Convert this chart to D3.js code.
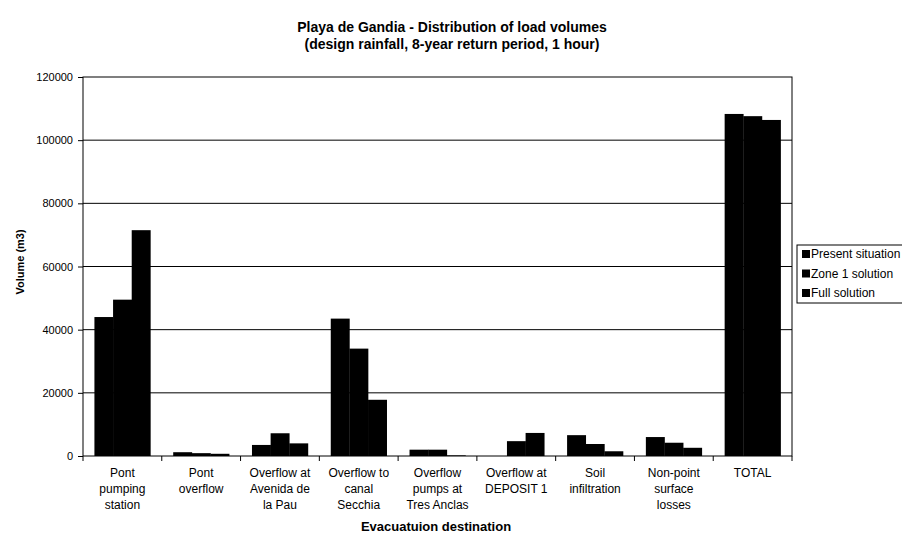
<!DOCTYPE html>
<html>
<head>
<meta charset="utf-8">
<script src="https://cdn.jsdelivr.net/npm/d3@7/dist/d3.min.js"></script>
<style>
  body { margin: 0; background: #fff; }
  svg { display: block; font-family: "Liberation Sans", Arial, sans-serif; }
</style>
</head>
<body>
<svg id="chart" width="902" height="535"></svg>
<script>
// Evacuation destinations (multi-line axis labels)
const categories = [
  ["Pont", "pumping", "station"],
  ["Pont", "overflow"],
  ["Overflow at", "Avenida de", "la Pau"],
  ["Overflow to", "canal", "Secchia"],
  ["Overflow", "pumps at", "Tres Anclas"],
  ["Overflow at", "DEPOSIT 1"],
  ["Soil", "infiltration"],
  ["Non-point", "surface", "losses"],
  ["TOTAL"]
];
const seriesNames = ["Present situation", "Zone 1 solution", "Full solution"];
// Volumes in m3, one array per scenario
const presentSituation = [44000, 1200, 3500, 43500, 2000, 0, 6600, 6000, 108300];
const zone1Solution    = [49500, 900, 7200, 34000, 2000, 4700, 3800, 4200, 107600];
const fullSolution     = [71500, 700, 4000, 17800, 200, 7300, 1500, 2600, 106400];
const yTicks = [0, 20000, 40000, 60000, 80000, 100000, 120000];

const series = [presentSituation, zone1Solution, fullSolution];
const svg = d3.select("#chart");
const plot = { left: 83, right: 792, top: 77, bottom: 456 };

const x = d3.scaleBand()
  .domain(d3.range(categories.length))
  .range([plot.left, plot.right])
  .paddingInner(0.29).paddingOuter(0.145);
const slot = d3.scaleBand()
  .domain(d3.range(series.length))
  .range([0, x.bandwidth()]);
const y = d3.scaleLinear().domain([0, 120000]).range([plot.bottom, plot.top]);

// Titles
svg.append("text").attr("x", 452).attr("y", 32)
  .attr("text-anchor", "middle").attr("font-size", 14).attr("font-weight", "bold")
  .text("Playa de Gandia - Distribution of load volumes");
svg.append("text").attr("x", 452).attr("y", 49)
  .attr("text-anchor", "middle").attr("font-size", 14).attr("font-weight", "bold")
  .text("(design rainfall, 8-year return period, 1 hour)");

// Horizontal gridlines
svg.append("g").selectAll("line")
  .data(yTicks.filter(d => d > 0 && d < 120000))
  .join("line")
  .attr("x1", plot.left).attr("x2", plot.right)
  .attr("y1", d => y(d)).attr("y2", d => y(d))
  .attr("stroke", "#000").attr("stroke-width", 1);

// Bars
svg.append("g").selectAll("g")
  .data(categories.map((c, i) => i))
  .join("g")
  .attr("transform", i => `translate(${x(i)},0)`)
  .selectAll("rect")
  .data(i => series.map((s, k) => ({ k, v: s[i] })))
  .join("rect")
  .attr("x", d => slot(d.k))
  .attr("width", slot.bandwidth() + 0.3)
  .attr("y", d => y(d.v))
  .attr("height", d => y(0) - y(d.v))
  .attr("fill", "#000");

// Plot frame
svg.append("rect")
  .attr("x", plot.left).attr("y", plot.top)
  .attr("width", plot.right - plot.left).attr("height", plot.bottom - plot.top)
  .attr("fill", "none").attr("stroke", "#000").attr("stroke-width", 1);

// Y axis
const yAxis = svg.append("g")
  .attr("transform", `translate(${plot.left},0)`)
  .call(d3.axisLeft(y).tickValues(yTicks).tickFormat(d3.format("d")).tickSize(5).tickPadding(5));
yAxis.select(".domain").remove();
yAxis.selectAll("text").attr("font-size", 11).attr("font-family", "Liberation Sans, Arial, sans-serif");

// X axis ticks at category boundaries
const boundaries = d3.range(categories.length + 1).map(i => plot.left + i * (plot.right - plot.left) / categories.length);
svg.append("g").selectAll("line").data(boundaries).join("line")
  .attr("x1", d => d).attr("x2", d => d)
  .attr("y1", plot.bottom).attr("y2", plot.bottom + 5)
  .attr("stroke", "#000");

// Category labels
svg.append("g").selectAll("text")
  .data(categories.map((c, i) => ({ c, i })))
  .join("text")
  .attr("text-anchor", "middle").attr("font-size", 12)
  .attr("x", d => x(d.i) + x.bandwidth() / 2)
  .attr("y", 477)
  .selectAll("tspan")
  .data(d => d.c.map(line => ({ line, cx: x(d.i) + x.bandwidth() / 2 })))
  .join("tspan")
  .attr("x", d => d.cx)
  .attr("dy", (d, j) => j === 0 ? 0 : 16)
  .text(d => d.line);

// Axis titles
svg.append("text").attr("x", 436).attr("y", 531)
  .attr("text-anchor", "middle").attr("font-size", 13).attr("font-weight", "bold")
  .text("Evacuatuion destination");
svg.append("text")
  .attr("transform", "translate(24,262) rotate(-90)")
  .attr("text-anchor", "middle").attr("font-size", 11).attr("font-weight", "bold")
  .text("Volume (m3)");

// Legend
const legend = svg.append("g").attr("transform", "translate(797,245)");
legend.append("rect").attr("width", 112).attr("height", 58)
  .attr("fill", "#fff").attr("stroke", "#000");
seriesNames.forEach((name, k) => {
  const row = legend.append("g").attr("transform", `translate(5,${9 + k * 19.5})`);
  row.append("rect").attr("x", 0).attr("y", -4).attr("width", 8).attr("height", 8).attr("fill", "#000");
  row.append("text").attr("x", 9).attr("y", 4).attr("font-size", 12).text(name);
});
</script>
</body>
</html>
